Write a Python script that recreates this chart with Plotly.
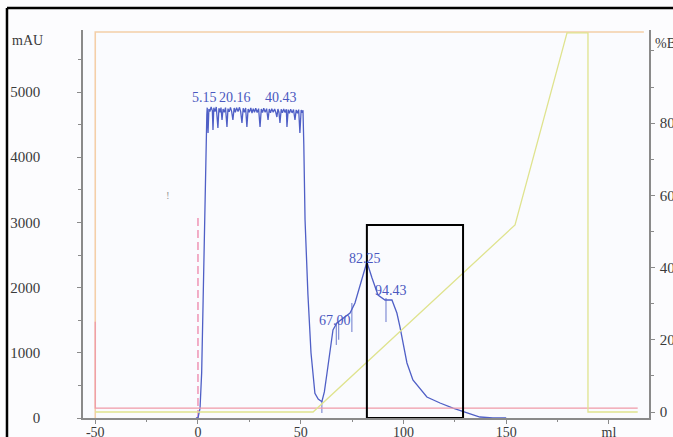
import plotly.graph_objects as go

# ---------------- data ----------------
# UV absorbance trace (mAU) vs volume (ml)
uv_ml = [-1, 0, 1.0, 1.8, 2.5, 3.2, 3.8, 4.3,
         4.5, 4.9, 5.3, 5.8, 6.4, 7.0, 7.3, 7.7, 8.3, 8.9, 9.7, 10.2, 10.8, 11.2, 11.7,
         12.2, 12.8, 13.4, 14.1, 14.6, 15.2, 15.8, 16.4, 17.0, 17.6, 18.2, 18.8, 19.5,
         20.2, 20.8, 21.4, 22.0, 22.6, 23.2, 23.8, 24.4, 25.0, 25.7, 26.3, 26.9, 27.5,
         28.1, 28.8, 29.5, 30.2, 30.8, 31.4, 32.0, 32.7, 33.4, 34.1, 34.7, 35.3, 35.9,
         36.6, 37.3, 37.9, 38.4, 38.9, 39.4, 39.9, 40.5, 41.1, 41.7, 42.4, 43.0, 43.3,
         43.9, 44.5, 45.1, 45.8, 46.5, 47.2, 47.8, 48.4, 49.0, 49.6, 50.2, 50.7, 51.1,
         51.5, 52.1, 53.5, 55.0, 56.9, 58.5, 60.3, 61.5, 62.8, 65.7, 67.6, 70.6, 74.0,
         76.4, 78.8, 80.8, 82.2, 84.7, 87.6, 91.0, 94.4, 96.8, 98.3, 101.7, 104.6,
         111.4, 117.8, 124.1, 130.9, 137.2, 143.5, 150.0]
uv_mau = [0, 0, 150, 700, 1800, 3100, 4100, 4650,
          4760, 4371, 4740, 4700, 4770, 4710, 4417, 4760, 4700, 4770, 4448, 4750, 4690, 4760, 4571,
          4740, 4690, 4760, 4463, 4745, 4695, 4765, 4700, 4571, 4755, 4690, 4760, 4700,
          4765, 4695, 4525, 4750, 4690, 4755, 4463, 4740, 4690, 4755, 4678, 4745, 4690,
          4750, 4685, 4745, 4463, 4740, 4685, 4750, 4690, 4745, 4571, 4740, 4680, 4745,
          4690, 4740, 4685, 4617, 4740, 4690, 4525, 4735, 4680, 4740, 4685, 4735, 4463,
          4730, 4675, 4735, 4680, 4730, 4571, 4725, 4675, 4730, 4371, 4725, 4680, 4720,
          4200, 3040, 1900, 1000, 380, 290, 250, 400, 690, 1350, 1457, 1534, 1610,
          1764, 2009, 2239, 2393, 2147, 1887, 1810, 1810, 1610, 1396, 844, 583,
          322, 230, 153, 77, 15, 0, 0]

# peak marker ticks
marker_ml = [60.3, 67.3, 68.5, 74.9, 91.5]
marker_top = [260, 1460, 1480, 1764, 1840]
marker_bottom = [77, 1120, 1200, 1319, 1472]

# peak labels
peak_labels = ["5.15", "20.16", "40.43", "67.00", "82.25", "94.43"]
peak_label_ml = [3.4, 18.0, 40.4, 66.7, 81.3, 93.9]
peak_label_mau = [4923, 4923, 4923, 1503, 2454, 1963]

# %B concentration (yellow)
conc_ml = [-50, 56.0, 154.3, 179.6, 189.8, 189.8, 214.0]
conc_b = [0, 0, 51.8, 105, 105, 0, 0]

# red trace (right axis)
red_ml = [-50, -50, 214.0]
red_val = [25, 1.1, 1.1]

# orange trace (left axis)
orange_ml = [-50, -50, 217.0]
orange_mau = [0, 5920, 5920]

# injection mark (pink dashed)
inject_ml = [0, 0]
inject_mau = [0, 3083]

# highlight box
box_ml = [82.2, 129.0]
box_mau = [0, 2960]

# axis ticks
x_ticks = [-50, 0, 50, 100, 150, 200]
x_ticktext = ["-50", "0", "50", "100", "150", "ml"]
mau_ticks = [0, 1000, 2000, 3000, 4000, 5000]
b_ticks = [0, 20, 40, 60, 80]

# ---------------- figure ----------------
font_fam = "Liberation Serif"
txt_col = "#3a3a3a"
axis_col = "#8a8a8a"

fig = go.Figure()

fig.add_trace(go.Scatter(x=orange_ml, y=orange_mau, mode="lines",
                         line=dict(color="#f4cfa8", width=1.6), hoverinfo="skip"))
fig.add_trace(go.Scatter(x=red_ml, y=red_val, yaxis="y2", mode="lines",
                         line=dict(color="#ef9aa8", width=1.3), hoverinfo="skip"))
fig.add_trace(go.Scatter(x=conc_ml, y=conc_b, yaxis="y2", mode="lines",
                         line=dict(color="#dfe38e", width=1.3), hoverinfo="skip"))
fig.add_trace(go.Scatter(x=inject_ml, y=inject_mau, mode="lines",
                         line=dict(color="#ee8db0", width=1.4, dash="8px,4px"), hoverinfo="skip"))

mx, my = [], []
for m, t, b in zip(marker_ml, marker_top, marker_bottom):
    mx += [m, m, None]
    my += [t, b, None]
fig.add_trace(go.Scatter(x=mx, y=my, mode="lines",
                         line=dict(color="#6a78cc", width=1), hoverinfo="skip"))

fig.add_trace(go.Scatter(x=uv_ml, y=uv_mau, mode="lines",
                         line=dict(color="#4f5fc6", width=1.3), hoverinfo="skip"))

for lab, lx, ly in zip(peak_labels, peak_label_ml, peak_label_mau):
    fig.add_annotation(x=lx, y=ly, text=lab, showarrow=False,
                       font=dict(family=font_fam, size=14, color="#4a58c0"),
                       xanchor="center", yanchor="middle")

# "!" mark
fig.add_annotation(x=-14.6, y=3420, text="!", showarrow=False,
                   font=dict(family=font_fam, size=11, color="#9a9a9a"))

# highlight box
fig.add_shape(type="rect", xref="x", yref="y", x0=box_ml[0], x1=box_ml[1],
              y0=box_mau[0], y1=box_mau[1], line=dict(color="black", width=2))

# outer scan frame (top and left edges only; the rest lies outside the picture)
fig.add_shape(type="line", xref="paper", yref="paper", x0=-0.1343, x1=1.1,
              y0=1.0567, y1=1.0567, line=dict(color="black", width=2.5), layer="above")
fig.add_shape(type="line", xref="paper", yref="paper", x0=-0.1343, x1=-0.1343,
              y0=-0.1, y1=1.0567, line=dict(color="black", width=2.5), layer="above")

fig.add_annotation(xref="paper", yref="paper", x=-0.129, y=0.974, text="mAU",
                   showarrow=False, xanchor="left", yanchor="middle",
                   font=dict(family=font_fam, size=14, color=txt_col))
fig.add_annotation(xref="paper", yref="paper", x=1.007, y=0.966, text="%B",
                   showarrow=False, xanchor="left", yanchor="middle",
                   font=dict(family=font_fam, size=14, color=txt_col))

fig.update_layout(
    width=673, height=437, autosize=False,
    margin=dict(l=83, r=24, t=30, b=19),
    paper_bgcolor="#fcfcfe", plot_bgcolor="#fafbfe",
    showlegend=False,
    xaxis=dict(range=[-55.96, 219.5], tickvals=x_ticks, ticktext=x_ticktext,
               automargin=False, ticklabelstandoff=-4,
               showgrid=False, zeroline=False, showline=True, linecolor=axis_col,
               linewidth=1.5, ticks="outside", ticklen=4, tickcolor=axis_col,
               minor=dict(dtick=25, ticklen=2, tickcolor=axis_col, ticks="outside"),
               tickfont=dict(family=font_fam, size=14, color=txt_col)),
    yaxis=dict(range=[0, 5951], tickvals=mau_ticks, showgrid=False, zeroline=False,
               automargin=False,
               showline=True, linecolor=axis_col, linewidth=1.5, ticks="outside",
               ticklen=4, tickcolor=axis_col, ticklabelstandoff=34,
               minor=dict(dtick=500, ticklen=3, tickcolor=axis_col, ticks="outside"),
               tickfont=dict(family=font_fam, size=15, color=txt_col)),
    yaxis2=dict(range=[-1.66, 105.8], tickvals=b_ticks, overlaying="y", side="right",
                automargin=False,
                showgrid=False, zeroline=False, showline=True, linecolor=axis_col,
                linewidth=1.5, ticks="outside", ticklen=4, tickcolor=axis_col,
                ticklabelstandoff=2,
                minor=dict(dtick=10, ticklen=3, tickcolor=axis_col, ticks="outside"),
                tickfont=dict(family=font_fam, size=15, color=txt_col)),
)

fig.write_html("out.html", config={"displayModeBar": False},
               post_script="document.body.style.margin='0';document.body.style.padding='0';document.body.style.overflow='hidden';")
